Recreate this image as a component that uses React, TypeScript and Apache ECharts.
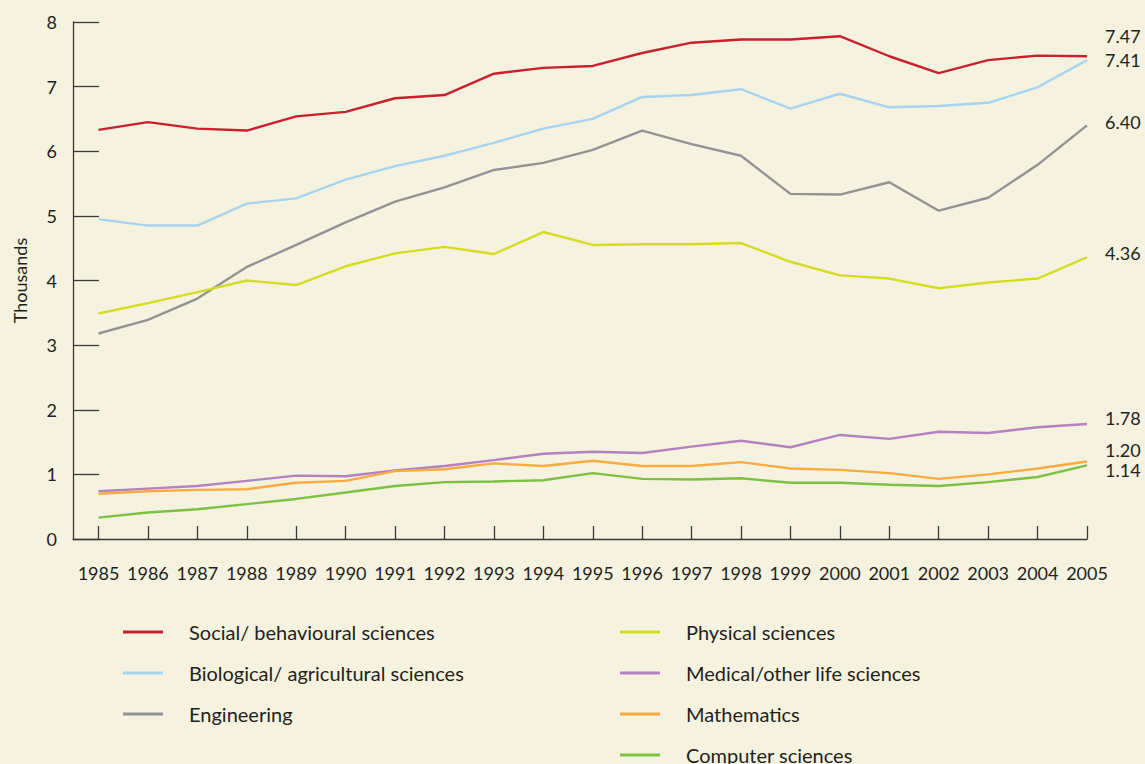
import React, { useEffect, useRef } from "react";
import * as echarts from "echarts";

const years = [1985, 1986, 1987, 1988, 1989, 1990, 1991, 1992, 1993, 1994, 1995, 1996, 1997, 1998, 1999, 2000, 2001, 2002, 2003, 2004, 2005];
const yTicks = [0, 1, 2, 3, 4, 5, 6, 7, 8];

const social = [6.33, 6.45, 6.35, 6.32, 6.54, 6.61, 6.82, 6.87, 7.20, 7.29, 7.32, 7.52, 7.68, 7.73, 7.73, 7.78, 7.47, 7.21, 7.41, 7.48, 7.47];
const biological = [4.95, 4.85, 4.85, 5.19, 5.27, 5.56, 5.77, 5.93, 6.13, 6.35, 6.50, 6.84, 6.87, 6.96, 6.66, 6.89, 6.68, 6.70, 6.75, 6.99, 7.41];
const engineering = [3.18, 3.39, 3.72, 4.21, 4.55, 4.90, 5.22, 5.44, 5.71, 5.82, 6.02, 6.32, 6.11, 5.93, 5.34, 5.33, 5.52, 5.08, 5.28, 5.79, 6.40];
const physical = [3.49, 3.65, 3.82, 4.00, 3.93, 4.22, 4.42, 4.52, 4.41, 4.75, 4.55, 4.56, 4.56, 4.58, 4.29, 4.08, 4.03, 3.88, 3.97, 4.03, 4.36];
const medical = [0.74, 0.78, 0.82, 0.90, 0.98, 0.97, 1.06, 1.13, 1.22, 1.32, 1.35, 1.33, 1.43, 1.52, 1.42, 1.61, 1.55, 1.66, 1.64, 1.73, 1.78];
const mathematics = [0.70, 0.74, 0.76, 0.77, 0.87, 0.90, 1.05, 1.08, 1.17, 1.13, 1.21, 1.13, 1.13, 1.19, 1.09, 1.07, 1.02, 0.93, 1.00, 1.09, 1.20];
const computer = [0.33, 0.41, 0.46, 0.54, 0.62, 0.72, 0.82, 0.88, 0.89, 0.91, 1.02, 0.93, 0.92, 0.94, 0.87, 0.87, 0.84, 0.82, 0.88, 0.96, 1.14];

const seriesNames = [
  "Social/ behavioural sciences",
  "Biological/ agricultural sciences",
  "Engineering",
  "Physical sciences",
  "Medical/other life sciences",
  "Mathematics",
  "Computer sciences",
];
const seriesValues = [social, biological, engineering, physical, medical, mathematics, computer];
const seriesColors = ["#c8202f", "#a8d4f0", "#939393", "#d5dd22", "#b581c0", "#fbab42", "#7cc143"];
const endLabelOffsets = [-20, 0, -3, -4, -6, -11, 5];

const FONT = "Lato";
const TEXT = "#231f20";
const AXIS = "#3a3a3a";
const BG = "#f5f2df";
// x-axis starts half a year-step (25.5px of 49.4px) before 1985
const X_MIN = 1984.484;

export default function App() {
  const ref = useRef<HTMLDivElement>(null);
  useEffect(() => {
    if (!ref.current) return;
    const chart = echarts.init(ref.current, null, { renderer: "svg" });
    const series = seriesNames.map((name, i) => ({
      name,
      type: "line",
      data: years.map((y, j) => [y, seriesValues[i][j]]),
      showSymbol: false,
      symbol: "none",
      lineStyle: { color: seriesColors[i], width: 2.4 },
      itemStyle: { color: seriesColors[i] },
      endLabel: {
        show: true,
        formatter: (p: any) => Number(p.value[1]).toFixed(2),
        color: TEXT,
        fontFamily: FONT,
        fontSize: 18,
        distance: 18,
        offset: [0, endLabelOffsets[i]],
      },
    }));
    const legendText = {
      color: TEXT,
      fontFamily: FONT,
      fontSize: 20,
      padding: [0, 0, 0, 21],
      lineHeight: 20,
    };
    const legendBase = {
      orient: "vertical",
      top: 622,
      height: 200,
      padding: 0,
      itemWidth: 40,
      itemHeight: 3,
      itemGap: 21,
      icon: "rect",
      textStyle: legendText,
      selectedMode: false,
    };
    chart.setOption({
      animation: false,
      backgroundColor: BG,
      textStyle: { fontFamily: FONT },
      grid: { left: 73, right: 58, top: 22, bottom: 225, containLabel: false },
      xAxis: {
        type: "value",
        min: X_MIN,
        max: years[years.length - 1],
        axisLine: { show: true, lineStyle: { color: AXIS, width: 1.3 } },
        axisTick: { show: true, inside: true, length: 13, lineStyle: { color: AXIS, width: 1.3 }, customValues: years },
        axisLabel: { color: TEXT, fontFamily: FONT, fontSize: 18, margin: 25, customValues: years, formatter: (v: number) => String(v) },
        splitLine: { show: false },
      },
      yAxis: {
        type: "value",
        min: yTicks[0],
        max: yTicks[yTicks.length - 1],
        interval: 1,
        name: "Thousands",
        nameLocation: "middle",
        nameGap: 44,
        nameTextStyle: { color: TEXT, fontFamily: FONT, fontSize: 18 },
        axisLine: { show: true, lineStyle: { color: AXIS, width: 1.3 } },
        axisTick: { show: true, inside: true, length: 26, lineStyle: { color: AXIS, width: 1.3 } },
        axisLabel: { color: TEXT, fontFamily: FONT, fontSize: 18, margin: 16 },
        splitLine: { show: false },
      },
      legend: [
        { ...legendBase, data: seriesNames.slice(0, 3), left: 123 },
        { ...legendBase, data: seriesNames.slice(3), left: 620 },
      ],
      series,
    });
    return () => chart.dispose();
  }, []);
  return (
    <div
      ref={ref}
      style={{ position: "absolute", left: 0, top: 0, width: 1145, height: 764, background: BG }}
    />
  );
}
